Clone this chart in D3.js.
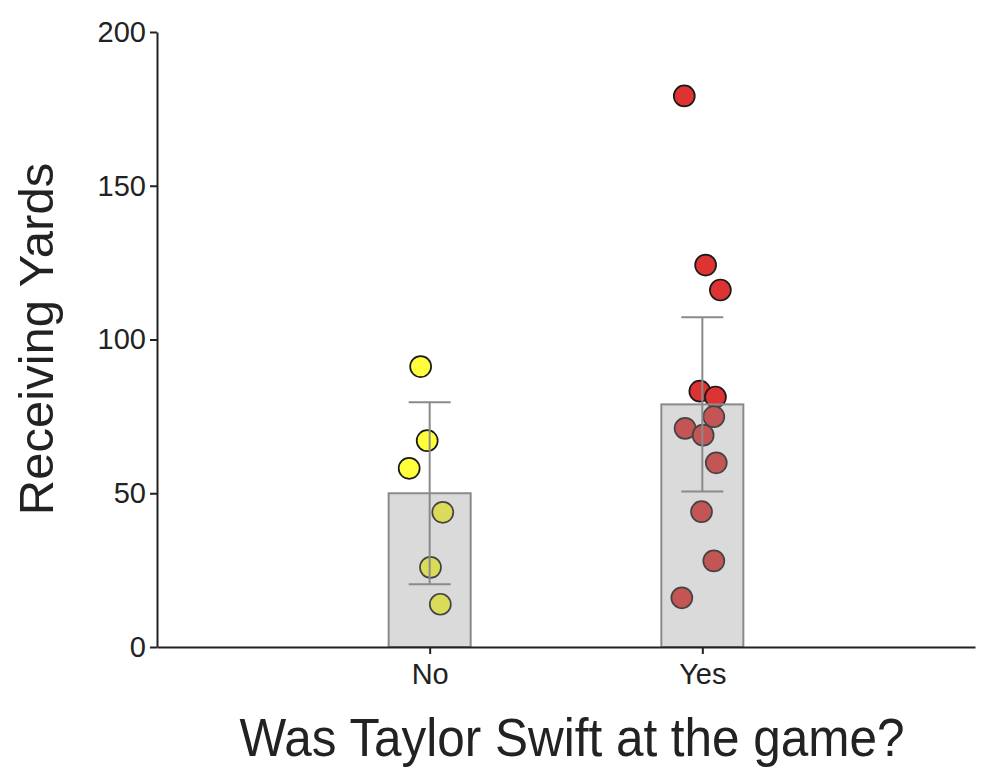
<!DOCTYPE html>
<html>
<head>
    <meta charset="utf-8">
    <title>Receiving Yards</title>
    <script src="https://d3js.org/d3.v7.min.js"></script>
    <style>
        body { margin: 0; background: #fff; }
        text { font-family: "Liberation Sans", Arial, sans-serif; fill: #222; }
    </style>
</head>
<body>
<div id="chart"></div>

<script type="text/javascript">
    // Dados
    let categories = ["No", "Yes"];
    let noYards  = [91.2, 67.1, 58.1, 43.8, 25.9, 13.9];
    let yesYards = [179.2, 124.2, 116.1, 83.2, 81.3, 74.9, 71.1, 68.9, 59.9, 44.0, 28.0, 16.0];
    // deslocamento horizontal (jitter) de cada ponto, em fração da largura da barra
    let noJitter  = [-0.11, -0.03, -0.25, 0.16, 0.01, 0.13];
    let yesJitter = [-0.22, 0.04, 0.22, -0.03, 0.16, 0.14, -0.21, 0.01, 0.17, -0.01, 0.14, -0.25];
    // t crítico para IC 95% (gl = n - 1)
    let tCrit = [2.571, 2.201];
    let yTicks = [0, 50, 100, 150, 200];

    let pointColors = ["#ffff3c", "#dd3333"];

    let margin = {top: 32, right: 25, bottom: 128, left: 157};
    let w = 1000 - margin.left - margin.right;
    let h = 775 - margin.top - margin.bottom;

    let svg = d3.select("#chart")
            .append("svg")
                .attr("width", 1000)
                .attr("height", 775)
            .append("g")
                .attr("transform", "translate(" + margin.left + "," + margin.top + ")");

    let groups = [noYards, yesYards].map(function(vals, i) {
        let m = d3.mean(vals);
        let sem = d3.deviation(vals) / Math.sqrt(vals.length);
        return {cat: categories[i], values: vals, jitter: i === 0 ? noJitter : yesJitter,
                mean: m, lo: m - tCrit[i] * sem, hi: m + tCrit[i] * sem, color: pointColors[i]};
    });

    let xScale = d3.scalePoint()
                  .domain(categories)
                  .range([0, w])
                  .padding(1);
    let yScale = d3.scaleLinear()
                  .domain([0, 200])
                  .range([h, 0]);

    let barW = 82;

    // pontos
    groups.forEach(function(g) {
        svg.selectAll(null)
           .data(g.values)
           .enter()
           .append("circle")
           .attr("cx", function(d, i) { return xScale(g.cat) + g.jitter[i] * barW; })
           .attr("cy", function(d) { return yScale(d); })
           .attr("r", 10.5)
           .attr("fill", g.color)
           .attr("stroke", "#1a1a1a")
           .attr("stroke-width", 1.7);
    });

    // barras (semitransparentes, por cima dos pontos)
    svg.selectAll("rect.bar")
       .data(groups)
       .enter()
       .append("rect")
       .attr("class", "bar")
       .attr("x", function(d) { return xScale(d.cat) - barW / 2; })
       .attr("y", function(d) { return yScale(d.mean); })
       .attr("width", barW)
       .attr("height", function(d) { return h - yScale(d.mean); })
       .attr("fill", "rgba(150,150,150,0.35)")
       .attr("stroke", "#8a8a8a")
       .attr("stroke-width", 2);

    // barras de erro
    let capW = 21;
    groups.forEach(function(g) {
        let cx = xScale(g.cat);
        let eb = svg.append("g")
            .attr("stroke", "#8a8a8a")
            .attr("stroke-width", 2);
        eb.append("line")
          .attr("x1", cx).attr("x2", cx)
          .attr("y1", yScale(g.hi)).attr("y2", yScale(g.lo));
        [g.hi, g.lo].forEach(function(v) {
            eb.append("line")
              .attr("x1", cx - capW).attr("x2", cx + capW)
              .attr("y1", yScale(v)).attr("y2", yScale(v));
        });
    });

    let xAxis = d3.axisBottom(xScale).tickSize(7).tickSizeOuter(0).tickPadding(9);
    let yAxis = d3.axisLeft(yScale).tickValues(yTicks).tickSize(7).tickSizeOuter(0).tickPadding(4);

    let gx = svg.append("g")
       .attr("transform", "translate(0," + h + ")")
       .call(xAxis);
    let gy = svg.append("g")
       .call(yAxis);

    [gx, gy].forEach(function(a) {
        a.selectAll("path, line").attr("stroke", "#222").attr("stroke-width", 2);
        a.selectAll("text").attr("fill", "#222")
         .style("font-size", "29px")
         .style("font-family", "'Liberation Sans', Arial, sans-serif");
    });

    // títulos dos eixos
    svg.append("text")
        .attr("x", 572 - margin.left)
        .attr("y", 756 - margin.top)
        .attr("text-anchor", "middle")
        .attr("font-size", 54)
        .attr("textLength", 665)
        .attr("lengthAdjust", "spacingAndGlyphs")
        .text("Was Taylor Swift at the game?");

    svg.append("text")
        .attr("transform", "translate(" + (53 - margin.left) + "," + (339 - margin.top) + ") rotate(-90)")
        .attr("text-anchor", "middle")
        .attr("font-size", 49)
        .text("Receiving Yards");
</script>
</body>
</html>
